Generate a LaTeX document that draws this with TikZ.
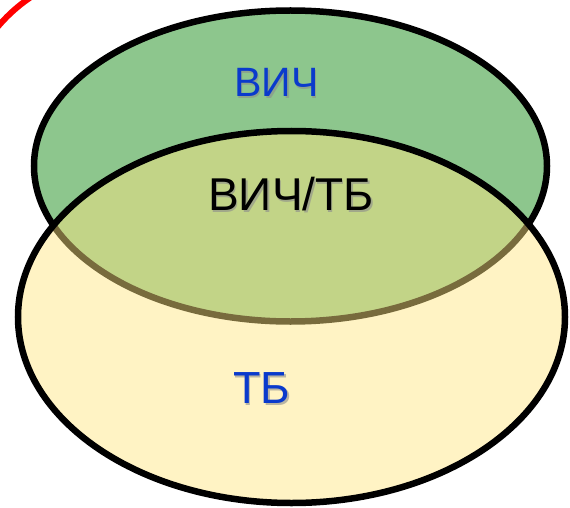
\documentclass[tikz,border=0pt]{standalone}
\usepackage{fontspec}
\setmainfont{Liberation Sans}
\definecolor{hivgreen}{RGB}{141,198,141}
\definecolor{tbyellow}{RGB}{255,229,130}
\definecolor{lblblue}{RGB}{10,58,204}
\definecolor{ringred}{RGB}{255,0,0}
\begin{document}
\begin{tikzpicture}[x=1pt,y=-1pt,
  setshape/.style={line width=6.5pt},
  lbl/.style={inner sep=0pt, anchor=center},
  shadowtxt/.style={lbl, text=black!45, opacity=0.6}]
\useasboundingbox (0,0) rectangle (570,508);
\begin{scope}
\clip (0,0) rectangle (570,508);
% red ring fragment at top-left corner
\begin{scope}
\clip (0,0) rectangle (45,40);
\draw[ringred, line width=6pt] (120,130) circle[radius=160];
\end{scope}
% HIV ellipse
\draw[setshape, fill=hivgreen] (290.5,166) ellipse[x radius=256.5, y radius=155.5];
% TB ellipse (semi-transparent fill on top)
\draw[setshape, fill=tbyellow, fill opacity=0.47] (291.5,317) ellipse[x radius=273.5, y radius=186];
\end{scope}
% labels with soft shadows
\node[shadowtxt, font=\fontsize{41}{41}\selectfont] at (278,84.5) {ВИЧ};
\node[lbl, text=lblblue, font=\fontsize{41}{41}\selectfont] (hiv) at (276.5,82.5) {ВИЧ};
\node[shadowtxt, font=\fontsize{46}{46}\selectfont] at (292.5,196.5) {ВИЧ/ТБ};
\node[lbl, text=black, font=\fontsize{46}{46}\selectfont] (both) at (291,194.5) {ВИЧ/ТБ};
\node[shadowtxt, font=\fontsize{45}{45}\selectfont] at (263.5,390) {ТБ};
\node[lbl, text=lblblue, font=\fontsize{45}{45}\selectfont] (tb) at (262,388) {ТБ};
\end{tikzpicture}
\end{document}
